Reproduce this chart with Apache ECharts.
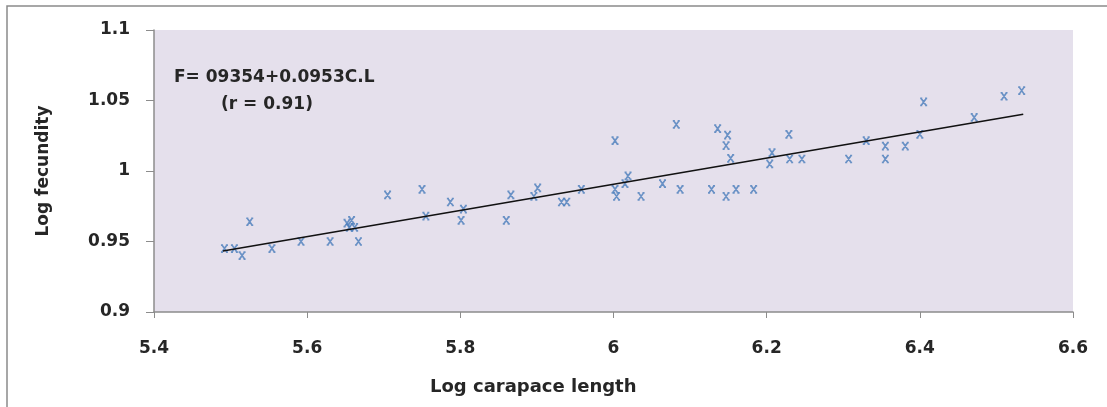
<!DOCTYPE html>
<html>
<head>
<meta charset="utf-8">
<script src="https://cdn.jsdelivr.net/npm/echarts@6/dist/echarts.min.js"></script>
<style>
html,body{margin:0;padding:0;background:#fff;}
#chart{width:1107px;height:407px;}
</style>
</head>
<body>
<div id="chart"></div>
<script>
// data
const carapace = [5.492,5.505,5.515,5.525,5.554,5.592,5.630,5.652,5.658,5.662,5.655,5.667,5.705,5.750,5.755,5.787,5.804,5.801,5.860,5.866,5.896,5.901,5.932,5.939,5.958,6.002,6.004,6.002,6.015,6.019,6.036,6.064,6.082,6.087,6.128,6.136,6.147,6.147,6.149,6.153,6.160,6.183,6.204,6.207,6.229,6.230,6.246,6.307,6.330,6.355,6.355,6.381,6.400,6.405,6.471,6.510,6.533];
const fecundity = [0.945,0.945,0.940,0.964,0.945,0.950,0.950,0.963,0.965,0.960,0.960,0.950,0.983,0.987,0.968,0.978,0.973,0.965,0.965,0.983,0.982,0.988,0.978,0.978,0.987,0.987,0.982,1.0215,0.991,0.9965,0.982,0.991,1.033,0.987,0.987,1.030,0.982,1.018,1.0255,1.009,0.987,0.987,1.005,1.013,1.026,1.0085,1.0085,1.0085,1.0215,1.0177,1.0085,1.0177,1.026,1.049,1.038,1.053,1.057];
// trend line end points
const trendX = [5.49, 6.535];
const trendY = [0.9433, 1.0402];
const xTicks = [5.4, 6.6, 0.2];   // min, max, step
const yTicks = [0.9, 1.1, 0.05];

let points = [];
for (let i = 0; i < carapace.length; i++) {
    points.push([carapace[i], fecundity[i]]);
}
let trend = [[trendX[0], trendY[0]], [trendX[1], trendY[1]]];

const font = "DejaVu Sans";
let myChart = echarts.init(document.getElementById("chart"));
myChart.setOption({
    animation: false,
    grid: {
        left: 154, top: 30, right: 34, bottom: 95,
        show: true, backgroundColor: "#E5E0EC", borderWidth: 0
    },
    xAxis: {
        type: "value",
        min: xTicks[0], max: xTicks[1], interval: xTicks[2],
        axisLine: {show: true, onZero: false, lineStyle: {color: "#8C8C8C", width: 1.5}},
        axisTick: {show: true, length: 6, lineStyle: {color: "#8C8C8C"}},
        splitLine: {show: false},
        axisLabel: {
            margin: 28, color: "#262626", fontFamily: font, fontWeight: "bold", fontSize: 17,
            formatter: function (v) { return String(Math.round(v * 10) / 10); }
        }
    },
    yAxis: {
        type: "value",
        min: yTicks[0], max: yTicks[1], interval: yTicks[2],
        axisLine: {show: true, lineStyle: {color: "#8C8C8C", width: 1.5}},
        axisTick: {show: true, length: 8, lineStyle: {color: "#8C8C8C"}},
        splitLine: {show: false},
        axisLabel: {
            margin: 24, color: "#262626", fontFamily: font, fontWeight: "bold", fontSize: 17,
            formatter: function (v) { return String(Math.round(v * 100) / 100); }
        },
        name: "Log fecundity",
        nameLocation: "middle",
        nameGap: 102,
        nameTextStyle: {color: "#262626", fontFamily: font, fontWeight: "bold", fontSize: 17}
    },
    graphic: [
        {
            type: "rect", silent: true,
            shape: {x: 7, y: 6, width: 1300, height: 600},
            style: {fill: "none", stroke: "#8A8A8A", lineWidth: 1.5}
        },
        {
            type: "text", left: 430, top: 378,
            style: {text: "Log carapace length", fill: "#262626", font: "bold 18px DejaVu Sans"}
        },
        {
            type: "text", left: 174, top: 69,
            style: {text: "F= 09354+0.0953C.L", fill: "#262626", font: "bold 17px DejaVu Sans"}
        },
        {
            type: "text", left: 221, top: 96,
            style: {text: "(r = 0.91)", fill: "#262626", font: "bold 17px DejaVu Sans"}
        }
    ],
    series: [
        {
            type: "scatter",
            data: points,
            symbol: "path://M0,0H3M7,0H10M1.5,0L8.5,10M8.5,0L1.5,10M0,10H3M7,10H10",
            symbolSize: [7, 7],
            itemStyle: {color: "none", borderColor: "#4A7DBC", borderWidth: 1.7}
        },
        {
            type: "line",
            data: trend,
            symbol: "none",
            lineStyle: {color: "#111", width: 1.6}
        }
    ]
});
</script>
</body>
</html>
